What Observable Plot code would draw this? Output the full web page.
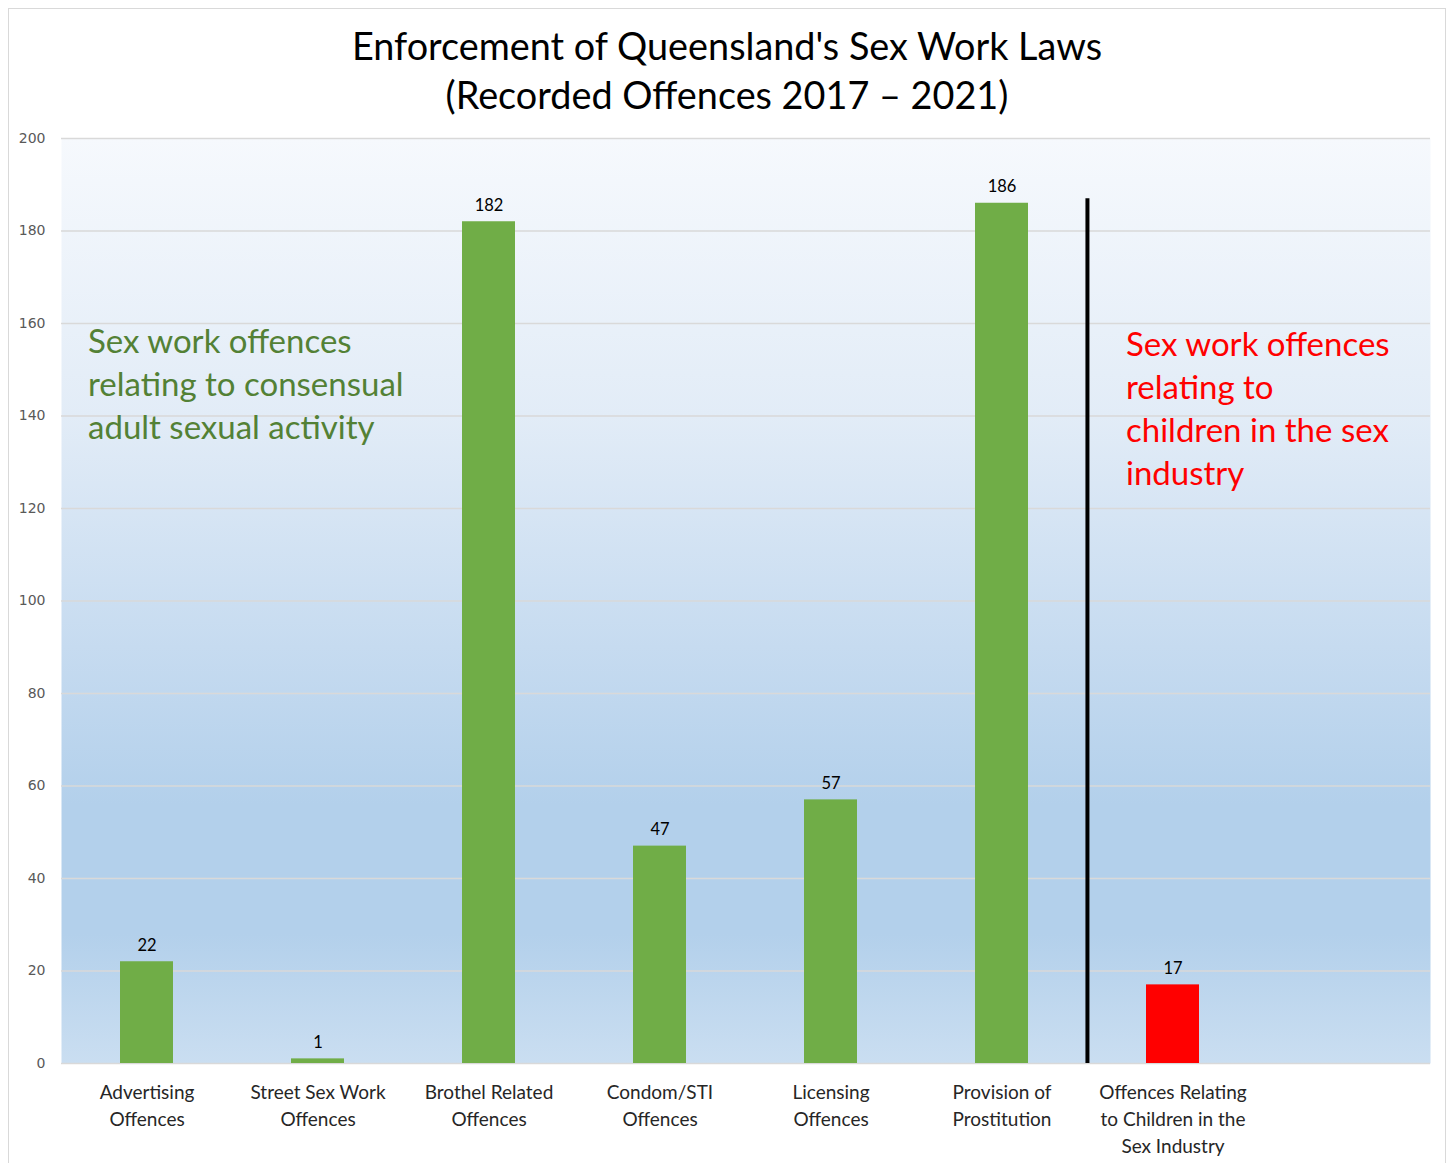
<!DOCTYPE html>
<html><head><meta charset="utf-8">
<script src="https://cdn.jsdelivr.net/npm/d3@7"></script>
<script src="https://cdn.jsdelivr.net/npm/@observablehq/plot@0.6"></script>
<style>
body{margin:0;background:#fff;font-family:Lato,"Open Sans",sans-serif}
#wrap{position:relative;width:1448px;height:1163px;overflow:hidden;background:#fff}
#frame{position:absolute;left:8px;top:8px;width:1438px;height:1170px;border:1px solid #d9d9d9;box-sizing:border-box}
#title{position:absolute;left:0;top:21px;width:1454px;text-align:center;font-size:37.8px;line-height:49px;color:#000}
#chart{position:absolute;left:0;top:120px}
</style></head><body>
<div id="wrap"><div id="frame"></div>
<div id="title">Enforcement of Queensland's Sex Work Laws<br>(Recorded Offences 2017 – 2021)</div>
<div id="chart"></div></div>
<script>
const categories = ["Advertising\nOffences", "Street Sex Work\nOffences", "Brothel Related\nOffences", "Condom/STI\nOffences", "Licensing\nOffences", "Provision of\nProstitution", "Offences Relating\nto Children in the\nSex Industry"];
const values = [22, 1, 182, 47, 57, 186, 17];
const groups = ["adult", "adult", "adult", "adult", "adult", "adult", "children"];
const emptySlot = " ";
const yTicks = [0, 20, 40, 60, 80, 100, 120, 140, 160, 180, 200];
const dividerCategory = categories[6];
const dividerTop = 187;
const adultNote = "Sex work offences\nrelating to consensual\nadult sexual activity";
const childNote = "Sex work offences\nrelating to\nchildren in the sex\nindustry";
const adultNoteY = 160.2;
const childNoteY = 159.5;

const data = categories.map((c, i) => ({category: c, value: values[i], group: groups[i]}));

const W = 1448, H = 1043, ML = 61, MR = 18, MT = 18, MB = 100;
const step = (W - ML - MR) / (categories.length + 1);

const defs = () => {
  const d = d3.create("svg:defs");
  const g = d.append("linearGradient").attr("id", "bg").attr("x1", 0).attr("y1", 0).attr("x2", 0).attr("y2", 1);
  [[0, "#f6f9fd"], [0.3, "#e2ecf7"], [0.55, "#c6dbf0"], [0.72, "#b3d0eb"], [0.86, "#b3d0eb"], [1, "#cadef1"]]
    .forEach(([o, c]) => g.append("stop").attr("offset", o).attr("stop-color", c));
  return d.node();
};

const chart = Plot.plot({
  width: W, height: H,
  marginLeft: ML, marginRight: MR, marginTop: MT, marginBottom: MB,
  style: {fontFamily: "Lato, 'Open Sans', sans-serif", background: "transparent", overflow: "visible"},
  x: {domain: [...categories, emptySlot], paddingInner: 0.69, paddingOuter: 0.345, label: null},
  y: {domain: [0, 200], label: null},
  color: {domain: ["adult", "children"], range: ["#70ad47", "#ff0000"]},
  marks: [
    defs,
    Plot.frame({fill: "url(#bg)", stroke: null}),
    Plot.gridY(yTicks, {stroke: "#d9d9d9", strokeOpacity: 1, strokeWidth: 1.5}),
    Plot.axisY(yTicks, {tickSize: 0, tickPadding: 16, fontSize: 14, fill: "#595959", fontFamily: "DejaVu Sans", label: null}),
    Plot.axisX({tickSize: 0, tickPadding: 16, fontSize: 19, lineHeight: 1.42, fill: "#262626", label: null}),
    Plot.barY(data, {x: "category", y: "value", fill: "group"}),
    Plot.text(data, {x: "category", y: "value", text: d => String(d.value), dy: -11, lineAnchor: "bottom", fontSize: 16.5, fill: "#000"}),
    Plot.ruleX([dividerCategory], {x: d => d, y1: 0, y2: dividerTop, dx: -step / 2, stroke: "#000", strokeWidth: 4}),
    Plot.text([adultNote], {x: () => categories[0], y: () => adultNoteY, text: d => d, dx: -59, textAnchor: "start", lineAnchor: "top", fontSize: 33, lineHeight: 1.3, fill: "#538135"}),
    Plot.text([childNote], {x: () => categories[6], y: () => childNoteY, text: d => d, dx: -47, textAnchor: "start", lineAnchor: "top", fontSize: 33, lineHeight: 1.3, fill: "#ff0000"})
  ]
});
document.getElementById("chart").append(chart);
</script>
</body></html>
